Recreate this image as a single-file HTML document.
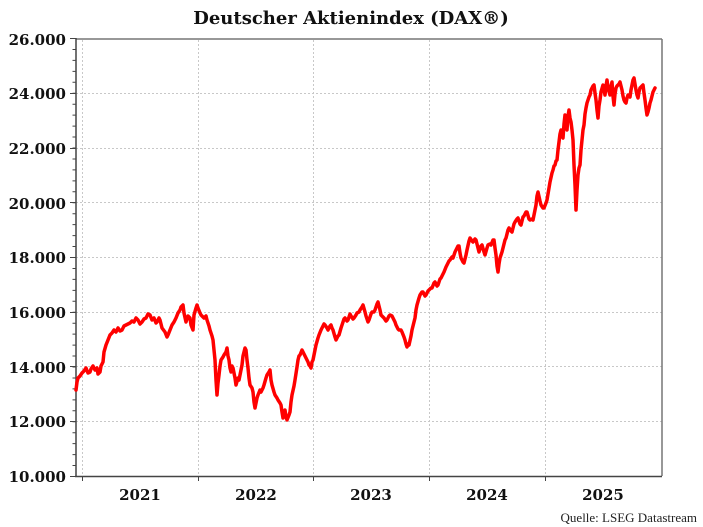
<!DOCTYPE html>
<html><head><meta charset="utf-8"><style>
body{margin:0;background:#fff}
svg{display:block}
text{font-family:"DejaVu Serif","Liberation Serif",serif}
</style></head><body>
<svg width="703" height="527" viewBox="0 0 703 527" xmlns="http://www.w3.org/2000/svg">
<text x="351" y="24" text-anchor="middle" font-size="18" font-weight="bold" fill="#111">Deutscher Aktienindex (DAX®)</text>
<g stroke="#c8c8c8" stroke-width="1" stroke-dasharray="2,2">
<line x1="76" x2="662" y1="93.5" y2="93.5"/><line x1="76" x2="662" y1="148.5" y2="148.5"/>
<line x1="76" x2="662" y1="202.5" y2="202.5"/><line x1="76" x2="662" y1="257.5" y2="257.5"/>
<line x1="76" x2="662" y1="312.5" y2="312.5"/><line x1="76" x2="662" y1="366.5" y2="366.5"/>
<line x1="76" x2="662" y1="421.5" y2="421.5"/>
<line x1="82.5" x2="82.5" y1="40" y2="476"/><line x1="198.5" x2="198.5" y1="40" y2="476"/>
<line x1="313.5" x2="313.5" y1="40" y2="476"/><line x1="429.5" x2="429.5" y1="40" y2="476"/>
<line x1="545.5" x2="545.5" y1="40" y2="476"/>
</g>
<g stroke="#777" stroke-width="1.5" fill="none">
<line x1="76" x2="662" y1="39" y2="39"/>
<line x1="662" x2="662" y1="39" y2="476"/>
</g>
<g stroke="#444" stroke-width="1.5">
<line x1="76" x2="76" y1="38" y2="477"/>
<line x1="75" x2="662" y1="476.5" y2="476.5"/>
</g>
<line x1="74" x2="74" y1="38" y2="477" stroke="#444" stroke-width="3" stroke-dasharray="1,9.95"/>
<g stroke="#444" stroke-width="1">
<line x1="70" x2="76" y1="38.5" y2="38.5"/><line x1="70" x2="76" y1="93.5" y2="93.5"/>
<line x1="70" x2="76" y1="148.5" y2="148.5"/><line x1="70" x2="76" y1="202.5" y2="202.5"/>
<line x1="70" x2="76" y1="257.5" y2="257.5"/><line x1="70" x2="76" y1="312.5" y2="312.5"/>
<line x1="70" x2="76" y1="366.5" y2="366.5"/><line x1="70" x2="76" y1="421.5" y2="421.5"/>
<line x1="70" x2="76" y1="476.5" y2="476.5"/>
<line x1="82.5" x2="82.5" y1="476" y2="481"/><line x1="198.5" x2="198.5" y1="476" y2="481"/>
<line x1="313.5" x2="313.5" y1="476" y2="481"/><line x1="429.5" x2="429.5" y1="476" y2="481"/>
<line x1="545.5" x2="545.5" y1="476" y2="481"/>
</g>
<g font-size="15" font-weight="bold" fill="#111" text-anchor="end">
<text x="66" y="45">26.000</text><text x="66" y="99">24.000</text><text x="66" y="154">22.000</text>
<text x="66" y="209">20.000</text><text x="66" y="263">18.000</text><text x="66" y="318">16.000</text>
<text x="66" y="373">14.000</text><text x="66" y="427">12.000</text><text x="66" y="482">10.000</text>
</g>
<g font-size="15" font-weight="bold" fill="#111" text-anchor="middle">
<text x="140" y="500">2021</text><text x="256" y="500">2022</text><text x="371" y="500">2023</text>
<text x="487" y="500">2024</text><text x="603" y="500">2025</text>
</g>
<text x="697" y="522" text-anchor="end" font-size="13" fill="#222" style="font-family:'Liberation Serif',serif">Quelle: LSEG Datastream</text>
<polyline fill="none" stroke="#ff0000" stroke-width="3.5" stroke-linejoin="round" stroke-linecap="round" points="76,390 77,382 78,378 80,376 82,373 84,371 86,368 88,373 90,372 91,369 93,366 95,370 97,368 98,374 100,372 101,366 103,362 104,352 106,345 108,340 110,335 112,333 114,330 116,332 118,328 120,331 122,330 124,326 126,325 128,324 130,323 132,321 134,322 136,318 138,320 140,324 142,322 144,319 146,318 148,314 150,315 152,320 154,318 156,323 157,322 159,318 160,320 162,328 165,332 167,337 168,335 170,330 172,325 174,322 176,318 178,313 180,310 181,307 183,305 184,313 186,322 188,316 190,318 191,325 193,330 194,315 196,308 197,305 198,308 200,313 201,315 203,317 204,318 206,316 207,320 209,326 210,330 212,336 213,340 214,350 215,360 216,380 217,395 218,383 219,375 220,366 221,360 223,357 224,355 226,352 227,348 228,356 229,360 230,368 231,372 232,366 233,368 235,378 236,385 238,378 239,380 241,370 242,365 243,356 244,352 245,348 246,350 247,360 248,368 249,378 250,385 252,388 253,392 254,402 255,408 257,398 258,395 260,390 261,392 263,388 264,385 266,378 267,375 269,372 270,370 271,380 272,385 274,392 275,395 277,398 278,400 280,403 281,405 282,412 283,418 284,413 285,410 286,417 287,420 289,415 290,412 291,402 292,395 294,386 295,380 297,367 298,360 299,356 300,355 302,350 303,352 305,356 306,358 308,362 309,365 310,366 311,368 312,362 313,360 315,350 316,345 318,338 319,335 321,330 322,328 324,324 325,325 327,328 328,330 330,326 331,325 332,328 333,330 335,337 336,340 338,336 339,335 341,328 342,325 344,319 345,318 347,321 348,320 350,314 351,316 353,319 354,318 356,315 357,313 359,312 360,310 362,307 363,305 365,312 366,316 368,322 369,320 371,314 372,312 374,312 375,310 377,304 378,302 380,310 381,315 383,317 384,318 386,321 387,320 389,316 390,315 392,316 393,318 395,322 396,325 398,329 399,330 401,330 402,332 404,337 405,340 406,344 407,347 408,344 409,345 411,336 412,330 414,322 415,318 416,310 417,305 419,298 420,295 422,292 423,292 425,296 426,295 428,291 429,290 431,288 432,288 434,283 435,282 437,286 438,285 440,279 441,278 443,274 444,272 446,267 447,265 449,261 450,260 452,257 453,258 455,252 456,250 458,246 459,246 460,253 461,258 463,262 464,263 466,255 467,250 469,241 470,238 472,241 473,242 475,239 476,240 478,248 479,252 481,246 482,245 484,252 485,255 487,248 488,245 490,244 491,245 493,240 494,240 495,248 496,255 497,266 498,272 499,264 500,258 502,252 503,248 505,240 506,238 508,230 509,228 511,231 512,232 514,224 515,222 517,219 518,218 520,224 521,225 523,217 524,216 526,212 527,212 529,219 530,220 532,219 533,220 535,210 536,205 537,196 538,192 540,201 541,205 543,208 544,208 546,203 547,200 549,188 550,182 552,173 553,170 554,166 555,165 556,161 557,160 558,150 559,142 560,134 561,130 562,136 563,138 564,124 565,115 566,126 567,130 568,116 569,110 570,118 571,122 572,130 573,140 574,165 575,185 576,210 577,190 578,175 579,168 580,165 581,150 582,140 583,130 584,125 585,114 586,108 587,103 588,100 589,97 590,95 591,90 592,88 593,86 594,85 595,93 596,100 597,110 598,118 599,106 600,100 601,92 603,85 604,90 605,95 606,86 607,80 608,88 610,95 611,86 612,82 613,96 614,105 615,94 616,88 617,86 618,85 619,84 620,82 621,86 622,90 623,96 624,100 625,102 626,103 627,98 628,95 629,96 630,97 631,90 632,85 633,80 634,78 635,84 636,90 637,95 638,98 639,92 640,88 642,86 643,85 644,93 645,100 646,108 647,115 648,112 649,108 650,103 651,100 652,96 653,92 654,90 655,88"/>
</svg>
</body></html>
